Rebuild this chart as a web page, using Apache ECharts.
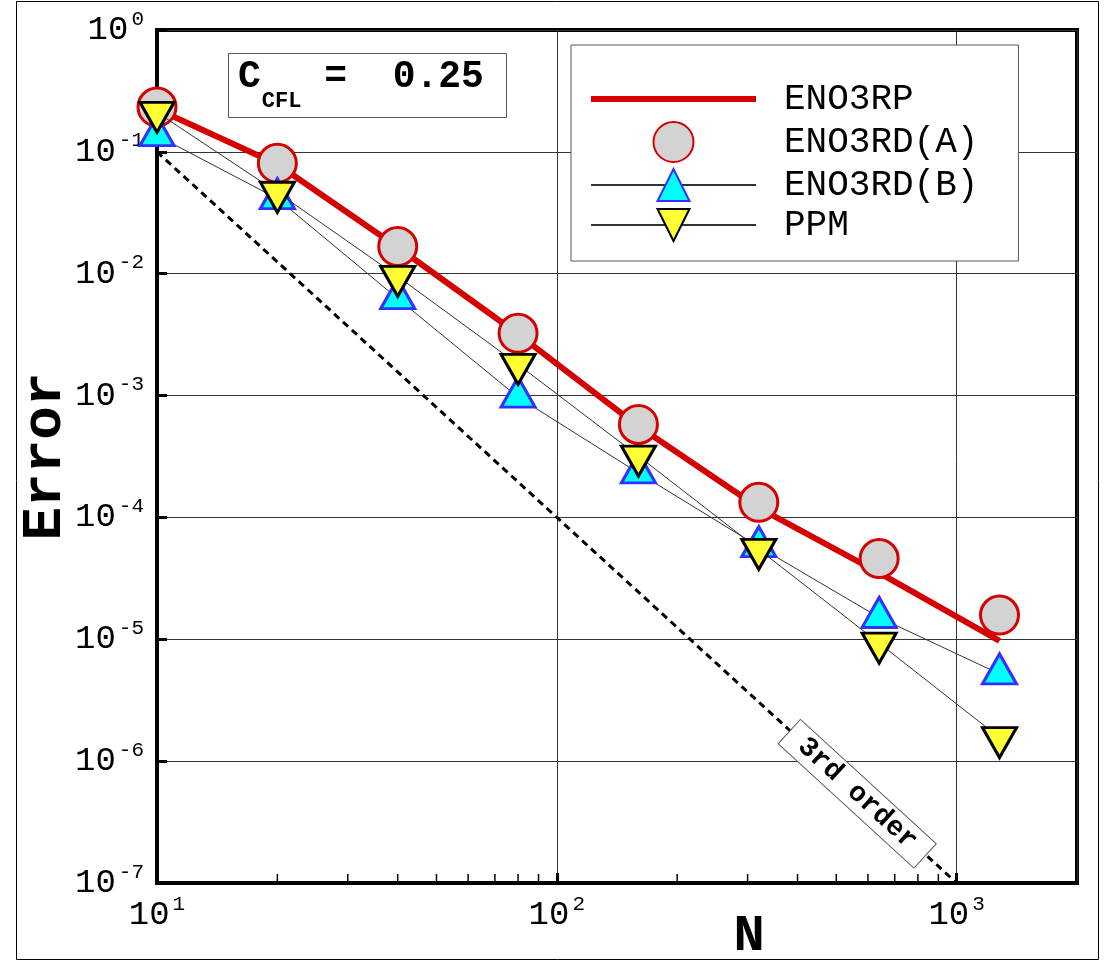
<!DOCTYPE html>
<html>
<head>
<meta charset="utf-8">
<title>Error vs N</title>
<script src="https://cdn.jsdelivr.net/npm/echarts@6.0.0/dist/echarts.min.js"></script>
<style>
  html, body { margin: 0; padding: 0; background: #fff; }
  #main { width: 1110px; height: 962px; }
</style>
</head>
<body>
<div id="main"></div>
<script>
// grid sizes N
const gridN = [10, 20, 40, 80, 160, 320, 640, 1280];

// errors
const eno3rp = [0.225, 0.079, 0.0165, 3.2e-3, 5.6e-4, 1.2e-4, 3.5e-5, 9.7e-6];
const eno3rdA = [0.233, 0.0805, 0.0167, 3.24e-3, 5.8e-4, 1.33e-4, 4.6e-5, 1.58e-5];
const eno3rdB = [0.136, 0.0413, 0.00625, 9.7e-4, 2.32e-4, 5.75e-5, 1.51e-5, 5.2e-6];
const ppm = [0.211, 0.0466, 0.0095, 1.8e-3, 3.19e-4, 5.47e-5, 9.3e-6, 1.56e-6];

// 3rd order reference slope
const thirdOrderN = [10, 1000];
const thirdOrderErr = [0.1, 1e-7];
const thirdOrderLabelAt = [564, 5.4e-7];

// minor ticks on the N axis
const minorTicksN = [20, 30, 40, 50, 60, 70, 80, 90, 200, 300, 400, 500, 600, 700, 800, 900];

const FONT = 'Liberation Mono';
const pair = (xs, ys) => xs.map((x, i) => [x, ys[i]]);

// 10^n labels
const powLabel = v => {
  const e = Math.round(Math.log10(v));
  if (Math.abs(Math.log10(v) - e) > 1e-6) return '';
  return '{b|10}{s|' + e + '}';
};
const powRich = {
  b: { fontFamily: FONT, fontSize: 34, lineHeight: 34, color: '#000' },
  s: { fontFamily: FONT, fontSize: 21, lineHeight: 21, color: '#000', padding: [0, 0, 22, 3] }
};

const chart = echarts.init(document.getElementById('main'));

const option = {
  animation: false,
  backgroundColor: '#fff',
  title: {
    text: '{c|C}{s|CFL}{t| =  0.25}',
    left: 228,
    top: 62,
    padding: [5, 23, 4, 10],
    borderColor: '#555',
    borderWidth: 1,
    textStyle: {
      rich: {
        c: { fontFamily: FONT, fontSize: 38, lineHeight: 38, fontWeight: 'bold', color: '#000', padding: [0, 0, 18, 0] },
        s: { fontFamily: FONT, fontSize: 22, lineHeight: 22, color: '#000', padding: [30, 0, 0, 1] },
        t: { fontFamily: FONT, fontSize: 38, lineHeight: 38, fontWeight: 'bold', color: '#000', padding: [0, 0, 18, 0] }
      }
    }
  },
  legend: {
    orient: 'vertical',
    left: 571,
    top: 45,
    itemWidth: 165,
    itemHeight: 40,
    itemGap: 4,
    padding: [36, 40, 18, 19],
    borderColor: '#555',
    borderWidth: 1,
    backgroundColor: '#fff',
    selectedMode: false,
    textStyle: { fontFamily: FONT, fontSize: 36, color: '#000', padding: [0, 0, 0, 23] },
    data: [
      { name: 'ENO3RP', icon: 'path://M0,0H165V6H0Z' },
      'ENO3RD(A)',
      'ENO3RD(B)',
      'PPM'
    ]
  },
  grid: {
    left: 157,
    right: 33,
    top: 30,
    bottom: 79,
    outerBoundsMode: 'none',
    show: true,
    borderColor: '#000',
    borderWidth: 4
  },
  xAxis: {
    type: 'log',
    logBase: 10,
    min: 10,
    max: 2000,
    name: 'N',
    nameLocation: 'middle',
    nameGap: 28,
    nameMoveOverlap: false,
    nameTextStyle: { fontFamily: FONT, fontSize: 52, fontWeight: 'bold', color: '#000', padding: [0, 0, 0, 264] },
    axisLine: { show: true, lineStyle: { color: '#000', width: 4 } },
    axisTick: { show: true, inside: true, length: 10, lineStyle: { color: '#000', width: 3 } },
    axisLabel: { margin: 15, formatter: powLabel, rich: powRich, showMaxLabel: false },
    splitLine: { show: true, lineStyle: { color: '#333', width: 1 } }
  },
  yAxis: {
    type: 'log',
    logBase: 10,
    min: 1e-7,
    max: 1,
    name: 'Error',
    nameLocation: 'middle',
    nameGap: 83,
    nameMoveOverlap: false,
    nameTextStyle: { fontFamily: FONT, fontSize: 56, fontWeight: 'bold', color: '#000' },
    axisLine: { show: true, lineStyle: { color: '#000', width: 4 } },
    axisTick: { show: true, inside: true, length: 10, lineStyle: { color: '#000', width: 3 } },
    axisLabel: { margin: 13, formatter: powLabel, rich: powRich },
    splitLine: { show: true, lineStyle: { color: '#333', width: 1 } }
  },
  graphic: [
    {
      type: 'rect',
      shape: { x: 16.5, y: 1.5, width: 1082, height: 958 },
      style: { fill: 'none', stroke: '#000', lineWidth: 1 },
      z: -10
    }
  ],
  series: [
    {
      name: '3rd order',
      type: 'line',
      z: 2,
      data: pair(thirdOrderN, thirdOrderErr),
      symbol: 'none',
      clip: false,
      lineStyle: { color: '#000', width: 3, type: [7, 5] }
    },
    {
      name: '3rd order label',
      type: 'scatter',
      z: 4,
      data: [thirdOrderLabelAt],
      symbolSize: 1,
      itemStyle: { color: '#fff' },
      silent: true,
      label: {
        show: true,
        position: 'inside',
        formatter: '3rd order',
        rotate: -42.5,
        fontFamily: FONT,
        fontSize: 28,
        fontWeight: 'bold',
        color: '#000',
        opacity: 1,
        backgroundColor: '#fff',
        borderColor: '#555',
        borderWidth: 1,
        padding: [2, 16]
      }
    },
    {
      name: 'minor ticks',
      type: 'custom',
      z: 4,
      silent: true,
      clip: false,
      data: minorTicksN.map(v => [v, 1e-7]),
      encode: { x: 0, y: 1 },
      renderItem: (params, api) => {
        const p = api.coord([api.value(0), api.value(1)]);
        return {
          type: 'line',
          shape: { x1: p[0], y1: p[1] - 2, x2: p[0], y2: p[1] - 9 },
          style: { stroke: '#000', lineWidth: 1.5 }
        };
      }
    },
    {
      name: 'ENO3RP',
      type: 'line',
      z: 5,
      data: pair(gridN, eno3rp),
      symbol: 'none',
      clip: false,
      color: '#d50000',
      lineStyle: { color: '#d50000', width: 6 }
    },
    {
      name: 'ENO3RD(A)',
      type: 'scatter',
      z: 6,
      data: pair(gridN, eno3rdA),
      symbol: 'circle',
      symbolSize: 38,
      clip: false,
      itemStyle: { color: '#d3d3d3', borderColor: '#d50000', borderWidth: 3, opacity: 1 }
    },
    {
      name: 'ENO3RD(B)',
      type: 'line',
      z: 7,
      data: pair(gridN, eno3rdB),
      symbol: 'triangle',
      symbolSize: [34, 30],
      symbolOffset: [0, -5],
      showAllSymbol: true,
      clip: false,
      lineStyle: { color: '#333', width: 1 },
      itemStyle: { color: '#00ffff', borderColor: '#3030ff', borderWidth: 3 }
    },
    {
      name: 'PPM',
      type: 'line',
      z: 8,
      data: pair(gridN, ppm),
      symbol: 'triangle',
      symbolRotate: 180,
      symbolSize: [34, 30],
      symbolOffset: [0, 5],
      showAllSymbol: true,
      clip: false,
      lineStyle: { color: '#333', width: 1 },
      itemStyle: { color: '#ffff33', borderColor: '#000', borderWidth: 3 }
    }
  ]
};

chart.setOption(option);
</script>
</body>
</html>
